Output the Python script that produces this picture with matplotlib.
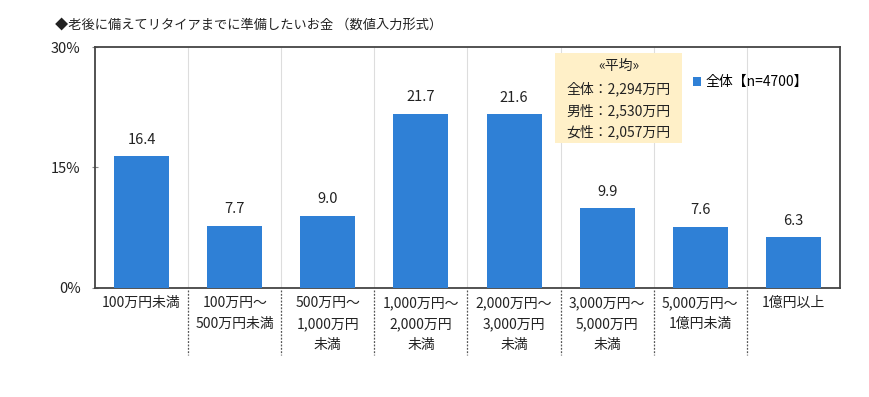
import numpy as np
import matplotlib
matplotlib.use('Agg')
import matplotlib.pyplot as plt
import matplotlib.transforms as mtransforms
from matplotlib.patches import Rectangle

plt.rcParams['font.family'] = ['Noto Sans CJK JP', 'DejaVu Sans']

categories = ['100万円未満', '100万円～\n500万円未満', '500万円～\n1,000万円\n未満',
              '1,000万円～\n2,000万円\n未満', '2,000万円～\n3,000万円\n未満',
              '3,000万円～\n5,000万円\n未満', '5,000万円～\n1億円未満', '1億円以上']
values = [16.4, 7.7, 9.0, 21.7, 21.6, 9.9, 7.6, 6.3]
yticks = [0, 15, 30]
ytick_labels = ['0%', '15%', '30%']
avg_lines = ['«平均»', '全体：2,294万円', '男性：2,530万円', '女性：2,057万円']
legend_label = '全体【n=4700】'

bar_color = '#2F80D6'

fig = plt.figure(figsize=(8.7, 3.97), dpi=100)
ax = fig.add_axes([0.1092, 0.2746, 0.8563, 0.607])

x = np.arange(len(categories))
ax.bar(x, values, width=0.59, color=bar_color, zorder=3, label=legend_label)
for xi, v in zip(x, values):
    ax.annotate(f'{v:.1f}', (xi, v), textcoords='offset points', xytext=(0, 7),
                ha='center', va='bottom', fontsize=10.5, color='#222222')

ax.set_xlim(-0.5, len(categories) - 0.5)
ax.set_ylim(0, 30)
ax.set_yticks(yticks)
ax.set_yticklabels(ytick_labels, fontsize=10.5, color='#222222')
ax.tick_params(axis='y', direction='inout', length=4.5, width=0.8, color='#888888', pad=8)
ax.set_xticks(x)
ax.set_xticklabels(categories, fontsize=10, color='#222222', linespacing=1.6, va='top')
ax.tick_params(axis='x', length=0, pad=6)

# light vertical grid between categories
ax.vlines(np.arange(0.5, len(categories) - 0.5), 0, 30, colors='#DDDDDD', linewidth=0.8, zorder=1)

for s in ax.spines.values():
    s.set_color('#444444')
    s.set_linewidth(1.3)

# dotted separators under the axis
trans = mtransforms.blended_transform_factory(ax.transData, ax.transAxes)
for b in np.arange(0.5, len(categories) - 0.5):
    ax.plot([b, b], [-0.01, -0.28], transform=trans, color='#555555', linestyle=(0, (1.5, 1.2)),
            linewidth=0.9, clip_on=False)

# average box
ax.add_patch(Rectangle((0.617, 0.602), 0.171, 0.373, transform=ax.transAxes,
                       facecolor='#FFF0C8', edgecolor='none', zorder=4))
for line, ty in zip(avg_lines, [0.921, 0.826, 0.734, 0.647]):
    ax.text(0.7025, ty, line, transform=ax.transAxes, fontsize=10, ha='center', va='center',
            color='#222222', zorder=5)

leg = ax.legend(loc='upper left', bbox_to_anchor=(0.795, 0.905), frameon=False, fontsize=10,
                handlelength=0.6, handleheight=0.6, handletextpad=0.3, borderaxespad=0)

fig.text(0.063, 0.935, '◆老後に備えてリタイアまでに準備したいお金 （数値入力形式）', fontsize=9.5,
         ha='left', va='center', color='#222222')

fig.savefig('out.png', dpi=100)
